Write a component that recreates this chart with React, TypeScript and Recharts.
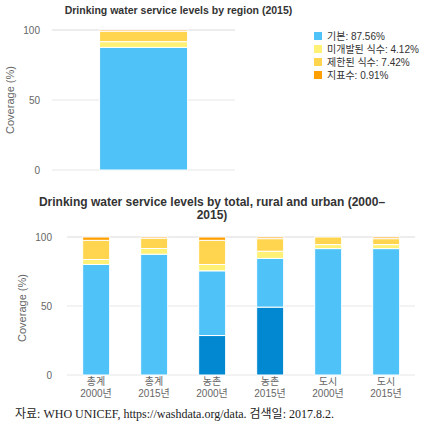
import React from 'react';
import { BarChart, Bar, XAxis, YAxis, CartesianGrid, Legend } from 'recharts';

// ---- Data ----
const regionCategories = ['2015'];
const regionBasic = [87.56];
const regionUnimproved = [4.12];
const regionLimited = [7.42];
const regionSurface = [0.91];

const trendAreas = ['총계', '총계', '농촌', '농촌', '도시', '도시'];
const trendYears = ['2000년', '2015년', '2000년', '2015년', '2000년', '2015년'];
const trendSafely = [null, null, 28.6, 49.2, null, null];
const trendBasic = [80.1, 87.56, 46.9, 35.3, 91.6, 91.6];
const trendUnimproved = [3.6, 4.12, 4.6, 5.2, 2.9, 2.9];
const trendLimited = [13.9, 7.42, 17.5, 9.1, 5.5, 4.3];
const trendSurface = [2.4, 0.91, 2.4, 1.2, 0, 1.2];

const yTicks = [0, 50, 100];

const seriesNames = ['기본', '미개발된 식수', '제한된 식수', '지표수'];

const COLORS = {
  safely: '#0288D1',
  basic: '#4FC3F7',
  unimproved: '#FFF176',
  limited: '#FFD54F',
  surface: '#FFA000',
};

const regionData = regionCategories.map((c, i) => ({
  name: c,
  basic: regionBasic[i],
  unimproved: regionUnimproved[i],
  limited: regionLimited[i],
  surface: regionSurface[i],
}));

const trendData = trendAreas.map((a, i) => ({
  name: `${a} ${trendYears[i]}`,
  safely: trendSafely[i],
  basic: trendBasic[i],
  unimproved: trendUnimproved[i],
  limited: trendLimited[i],
  surface: trendSurface[i],
}));

const FONT = '"Liberation Sans", "Noto Sans CJK KR", Arial, sans-serif';

const RegionLegend = (props: any) => {
  const payload = props.payload || [];
  return (
    <div style={{ fontFamily: FONT, fontSize: 10, color: '#333', textAlign: 'left', marginLeft: 12 }}>
      {payload.map((p: any, i: number) => (
        <div key={i} style={{ display: 'flex', alignItems: 'center', height: 13 }}>
          <span style={{ display: 'inline-block', width: 8, height: 8, background: p.color, marginRight: 5 }} />
          <span>{p.value}</span>
        </div>
      ))}
    </div>
  );
};

const TrendTick = (props: any) => {
  const { x, y, payload } = props;
  const i = payload.index;
  return (
    <text x={x} y={y} textAnchor="middle" fill="#666" fontSize={10} fontFamily={FONT}>
      <tspan x={x} dy={2}>{trendAreas[i]}</tspan>
      <tspan x={x} dy={12}>{trendYears[i]}</tspan>
    </text>
  );
};

const rotLabel = (text: string, cx: number, cy: number, size: number) => (
  <div
    style={{
      position: 'absolute',
      left: cx - 60,
      top: cy - 8,
      width: 120,
      height: 16,
      lineHeight: '16px',
      textAlign: 'center',
      transform: 'rotate(-90deg)',
      fontFamily: FONT,
      fontSize: size,
      color: '#666',
      whiteSpace: 'nowrap',
    }}
  >
    {text}
  </div>
);

export default function App() {
  const legendNames: Record<string, string> = {
    basic: `${seriesNames[0]}: ${regionBasic[0]}%`,
    unimproved: `${seriesNames[1]}: ${regionUnimproved[0]}%`,
    limited: `${seriesNames[2]}: ${regionLimited[0]}%`,
    surface: `${seriesNames[3]}: ${regionSurface[0]}%`,
  };
  return (
    <div style={{ position: 'absolute', left: 0, top: 0, width: 424, height: 426, background: '#fff', overflow: 'hidden' }}>
      <div
        style={{
          position: 'absolute', left: 0, top: 3, width: 357, textAlign: 'center',
          fontFamily: FONT, fontWeight: 'bold', fontSize: 10.5, color: '#333', lineHeight: '14px',
        }}
      >
        Drinking water service levels by region (2015)
      </div>
      {rotLabel('Coverage (%)', 10, 100, 11)}
      <div style={{ position: 'absolute', left: 0, top: 0 }}>
        <BarChart width={424} height={180} data={regionData} barCategoryGap="26%" margin={{ top: 30, right: 67, left: 0, bottom: 10 }}>
          <CartesianGrid horizontal vertical={false} stroke="#e6e6e6" />
          <XAxis dataKey="name" hide />
          <YAxis
            width={52}
            domain={[0, 100]}
            ticks={yTicks}
            tickLine={false}
            axisLine={false}
            tickMargin={6}
            tick={{ fill: '#666', fontSize: 10, fontFamily: FONT }}
          />
          <Legend
            layout="vertical"
            verticalAlign="top"
            align="right"
            wrapperStyle={{ position: 'absolute', left: 302, right: 'auto', top: 29, width: 122, margin: 0, padding: 0 }}
            content={RegionLegend}
          />
          <Bar dataKey="basic" name={legendNames.basic} stackId="a" fill={COLORS.basic} stroke="#fff" strokeWidth={1} isAnimationActive={false} />
          <Bar dataKey="unimproved" name={legendNames.unimproved} stackId="a" fill={COLORS.unimproved} stroke="#fff" strokeWidth={1} isAnimationActive={false} />
          <Bar dataKey="limited" name={legendNames.limited} stackId="a" fill={COLORS.limited} stroke="#fff" strokeWidth={1} isAnimationActive={false} />
          <Bar dataKey="surface" name={legendNames.surface} stackId="a" fill={COLORS.surface} stroke="#fff" strokeWidth={1} isAnimationActive={false} />
        </BarChart>
      </div>

      <div
        style={{
          position: 'absolute', left: 0, top: 196, width: 424, textAlign: 'center',
          fontFamily: FONT, fontWeight: 'bold', fontSize: 12, color: '#333', lineHeight: '13px',
        }}
      >
        Drinking water service levels by total, rural and urban (2000–
        <br />
        2015)
      </div>
      {rotLabel('Coverage (%)', 22, 308, 11)}
      <div style={{ position: 'absolute', left: 0, top: 225 }}>
        <BarChart width={424} height={180} data={trendData} barCategoryGap="27%" margin={{ top: 12, right: 9, left: 0, bottom: 0 }}>
          <CartesianGrid horizontal vertical={false} stroke="#e6e6e6" />
          <XAxis dataKey="name" height={30} tickLine={false} axisLine={false} interval={0} tick={<TrendTick />} />
          <YAxis
            width={67}
            domain={[0, 100]}
            ticks={yTicks}
            tickLine={false}
            axisLine={false}
            tickMargin={9}
            tick={{ fill: '#666', fontSize: 10, fontFamily: FONT }}
          />
          <Bar dataKey="safely" stackId="b" fill={COLORS.safely} stroke="#fff" strokeWidth={1} isAnimationActive={false} />
          <Bar dataKey="basic" stackId="b" fill={COLORS.basic} stroke="#fff" strokeWidth={1} isAnimationActive={false} />
          <Bar dataKey="unimproved" stackId="b" fill={COLORS.unimproved} stroke="#fff" strokeWidth={1} isAnimationActive={false} />
          <Bar dataKey="limited" stackId="b" fill={COLORS.limited} stroke="#fff" strokeWidth={1} isAnimationActive={false} />
          <Bar dataKey="surface" stackId="b" fill={COLORS.surface} stroke="#fff" strokeWidth={1} isAnimationActive={false} />
        </BarChart>
      </div>

      <div
        style={{
          position: 'absolute', left: 15, top: 406, whiteSpace: 'nowrap',
          fontFamily: '"Liberation Serif", "Noto Sans CJK KR", serif', fontSize: 12, color: '#222', lineHeight: '16px',
        }}
      >
        자료: WHO UNICEF, https://washdata.org/data. 검색일: 2017.8.2.
      </div>
    </div>
  );
}
